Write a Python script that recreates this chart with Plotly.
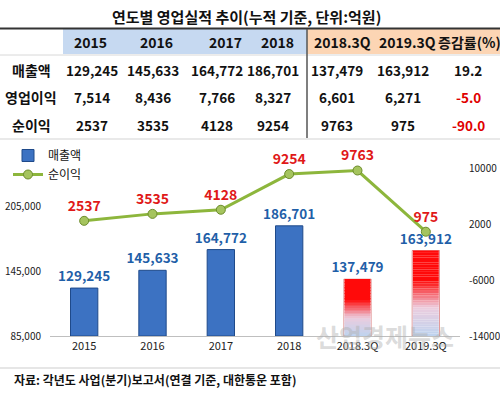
import plotly.graph_objects as go

# ---------------- data ----------------
title_text = "연도별 영업실적 추이(누적 기준, 단위:억원)"
periods = ["2015", "2016", "2017", "2018", "2018.3Q", "2019.3Q"]
table_cols = periods + ["증감률(%)"]
row_labels = ["매출액", "영업이익", "순이익"]
sales = [129245, 145633, 164772, 186701, 137479, 163912]
op_profit = [7514, 8436, 7766, 8327, 6601, 6271]
net_income = [2537, 3535, 4128, 9254, 9763, 975]
change_pct = ["19.2", "-5.0", "-90.0"]
left_ticks = [85000, 145000, 205000]
right_ticks = [-14000, -6000, 2000, 10000]
source_text = "자료: 각년도 사업(분기)보고서(연결 기준, 대한통운 포함)"
watermark = "산업경제뉴스"

W, H = 500, 394
FONT = "Noto Sans CJK KR"


def px(x):
    return x / W


def py(y):
    return 1 - y / H


fig = go.Figure()

# ---- bars ----
blue = "#3C72C2"
n_year = 4
bar_colors = [blue] * n_year + ["rgba(0,0,0,0)"] * (len(periods) - n_year)
line_colors = ["#1F4A8A"] * n_year + ["rgba(190,30,30,0.45)"] * (len(periods) - n_year)
fig.add_trace(go.Bar(
    x=periods, y=[v - left_ticks[0] for v in sales], base=left_ticks[0],
    marker=dict(color=bar_colors, line=dict(color=line_colors, width=1)),
    width=0.4, name="매출액",
    text=["<b>%s</b>" % f"{v:,}" for v in sales], textposition="outside",
    constraintext="none",
    textfont=dict(family=FONT, size=13.5, color="#1F5FA8"),
    cliponaxis=False, yaxis="y", showlegend=True,
    hoverinfo="skip",
))

# gradient for quarter bars
q_x = periods[n_year:]
q_v = sales[n_year:]
N = 36


def lerp(a, b, t):
    return tuple(a[i] + (b[i] - a[i]) * t for i in range(3))


bottom_c = (190, 212, 240)
mid_c = (236, 205, 222)
top_c = (255, 10, 10)
for k in range(N):
    t = (k + 0.5) / N
    if t < 0.33:
        c = lerp(bottom_c, mid_c, t / 0.33)
    else:
        c = lerp(mid_c, top_c, min(1, (t - 0.33) / 0.32))
    col = "rgb(%d,%d,%d)" % c
    fig.add_trace(go.Bar(
        x=q_x,
        y=[(v - left_ticks[0]) / N for v in q_v],
        base=[left_ticks[0] + (v - left_ticks[0]) * k / N for v in q_v],
        marker=dict(color=col, line=dict(width=0)),
        width=0.38, showlegend=False, hoverinfo="skip", yaxis="y",
    ))

# ---- line ----
fig.add_trace(go.Scatter(
    x=periods, y=net_income, yaxis="y2", name="순이익",
    mode="lines+markers+text",
    line=dict(color="#8DB63C", width=3),
    marker=dict(size=9, color="#A5C45E", line=dict(color="#6C8C2C", width=1)),
    text=["<b>%s</b>" % v for v in net_income], textposition="top center",
    textfont=dict(family=FONT, size=14, color="#E01818"),
    cliponaxis=False, hoverinfo="skip",
))

# ---------------- layout ----------------
shapes = []
annotations = []


def note(text, x, y, size=14, color="#111111", xanchor="center", bold=True):
    annotations.append(dict(
        text=("<b>%s</b>" % text) if bold else text,
        x=px(x), y=py(y), xref="paper", yref="paper", showarrow=False,
        xanchor=xanchor, yanchor="middle",
        font=dict(family=FONT, size=size, color=color)))


# table header backgrounds
shapes.append(dict(type="rect", xref="paper", yref="paper",
                   x0=px(63), x1=px(307), y0=py(54), y1=py(29),
                   fillcolor="#C6D9F1", line=dict(width=0), layer="below"))
shapes.append(dict(type="rect", xref="paper", yref="paper",
                   x0=px(307), x1=px(500), y0=py(54), y1=py(29),
                   fillcolor="#FCD5B4", line=dict(width=0), layer="below"))
# table lines
shapes.append(dict(type="line", xref="paper", yref="paper",
                   x0=0, x1=1, y0=py(28.5), y1=py(28.5),
                   line=dict(color="#333333", width=2)))
shapes.append(dict(type="line", xref="paper", yref="paper",
                   x0=0, x1=1, y0=py(55), y1=py(55),
                   line=dict(color="#D8D8D8", width=1)))
shapes.append(dict(type="line", xref="paper", yref="paper",
                   x0=px(307), x1=px(307), y0=py(29), y1=py(138),
                   line=dict(color="#555555", width=1.5)))
shapes.append(dict(type="line", xref="paper", yref="paper",
                   x0=0, x1=1, y0=py(139), y1=py(139),
                   line=dict(color="#E2E2E2", width=1.5)))
shapes.append(dict(type="line", xref="paper", yref="paper",
                   x0=0, x1=1, y0=py(368), y1=py(368),
                   line=dict(color="#E6E6E6", width=2)))

# title
note(title_text, 246, 17, size=15)

head_x = [90, 156, 225, 277, 342, 407, 469]
cell_x = [92, 153, 217, 273, 337, 403, 468]
row_y = [70, 97, 125]
header_y = 42
for cx, lab in zip(head_x, table_cols):
    note(lab, cx, header_y, size=14)
rows = [
    [f"{v:,}" for v in sales],
    [f"{v:,}" for v in op_profit],
    [str(v) for v in net_income],
]
for ri, (lab, vals) in enumerate(zip(row_labels, rows)):
    note(lab, 31, row_y[ri], size=14)
    cells = vals + [change_pct[ri]]
    for ci, val in enumerate(cells):
        color = "#E00000" if val.startswith("-") else "#111111"
        note(val, cell_x[ci], row_y[ri], size=13.5, color=color)

# source
note(source_text, 12, 379, size=12, xanchor="left")
# watermark
note(watermark, 385, 336, size=25, color="rgba(175,175,175,0.45)")

fig.update_layout(
    width=W, height=H,
    margin=dict(l=0, r=0, t=0, b=0, autoexpand=False),
    paper_bgcolor="white", plot_bgcolor="white",
    barmode="overlay",
    font=dict(family=FONT, size=11, color="#222222"),
    xaxis=dict(domain=[px(50), px(460)], type="category",
               showline=True, linecolor="#BFBFBF", linewidth=1,
               ticks="", showgrid=False, automargin=False,
               tickfont=dict(family=FONT, size=11, color="#222222")),
    yaxis=dict(domain=[py(336), py(141)], range=[85000, 265000],
               tickvals=left_ticks, ticktext=[f"{v:,}" for v in left_ticks],
               showgrid=False, zeroline=False, showline=False, ticks="",
               ticklabelstandoff=8, automargin=False,
               tickfont=dict(family=FONT, size=10, color="#222222")),
    yaxis2=dict(overlaying="y", side="right", range=[-14000, 14000],
                tickvals=right_ticks, ticktext=[str(v) for v in right_ticks],
                showgrid=False, zeroline=False, showline=False, ticks="",
                ticklabelstandoff=8, automargin=False,
                tickfont=dict(family=FONT, size=10, color="#222222")),
    legend=dict(x=px(8), y=py(141), xanchor="left", yanchor="top",
                bgcolor="rgba(0,0,0,0)", tracegroupgap=0,
                font=dict(family=FONT, size=12, color="#111111"),
                itemwidth=30),
    shapes=shapes, annotations=annotations,
)

fig.write_html("out.html", config={"displayModeBar": False},
               post_script="document.body.style.margin='0px';")
